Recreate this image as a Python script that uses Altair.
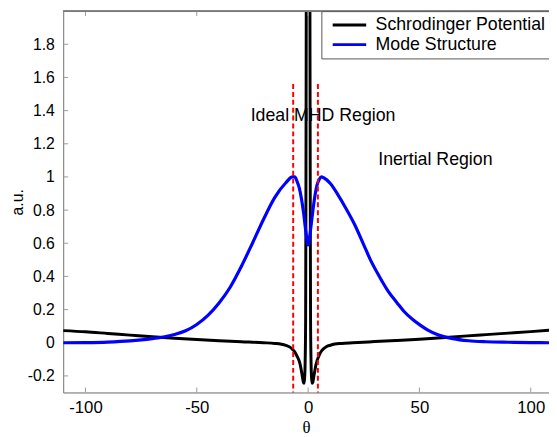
import altair as alt
import pandas as pd

# ---- data ----
pot_theta = [-110, -100, -90, -80, -70, -60, -50, -40, -30, -20, -15, -12, -10, -8, -7, -6, -5, -4,
             -3.5, -3, -2.5, -2.1, -1.8, -1.5, -1.3, -1.1, -0.9, -0.7, -0.5, 0,
             0.5, 0.7, 0.9, 1.1, 1.3, 1.5, 1.8, 2.1, 2.5, 3, 3.5, 4, 5, 6, 7, 8, 10, 12, 15,
             20, 30, 40, 50, 60, 70, 80, 90, 100, 110]
pot_value = [0.073, 0.066, 0.056, 0.046, 0.036, 0.027, 0.019, 0.012, 0.006, 0.0, -0.004, -0.009, -0.016,
             -0.028, -0.04, -0.055, -0.08, -0.11, -0.135, -0.17, -0.21, -0.24, -0.245, -0.2, -0.1,
             0.15, 1.4, 3.0, 5.0, 7.0,
             5.0, 3.0, 1.4, 0.15, -0.1, -0.2, -0.245, -0.24, -0.21, -0.17, -0.135, -0.11, -0.075,
             -0.05, -0.035, -0.025, -0.015, -0.008, -0.004, 0.0, 0.007, 0.014, 0.021, 0.03, 0.04,
             0.049, 0.058, 0.067, 0.077]

mode_theta = [-110, -100, -90, -80, -75, -70, -65, -60, -55, -50, -45, -40, -35, -30, -25, -20, -15,
              -10, -7, -6, -5, -4, -3, -2, -1, 0, 1, 2, 3, 4, 5, 6, 7, 10, 13.5, 17, 21, 25, 28, 32,
              36, 40, 43, 47, 50.5, 54, 58, 65, 72, 80, 90, 100, 110]
mode_value = [0.0, 0.001, 0.004, 0.011, 0.017, 0.025, 0.035, 0.05, 0.072, 0.11, 0.165, 0.24, 0.335,
              0.46, 0.6, 0.745, 0.875, 0.965, 1.0, 1.0, 0.975, 0.935, 0.87, 0.78, 0.67, 0.59,
              0.67, 0.78, 0.88, 0.95, 0.985, 1.0, 0.995, 0.96, 0.89, 0.81, 0.71, 0.59, 0.5, 0.4,
              0.31, 0.24, 0.19, 0.14, 0.105, 0.075, 0.05, 0.025, 0.012, 0.006, 0.003, 0.001, 0.0]

boundary_theta = [-6.7, 4.4]
boundary_top = [1.56, 1.56]
boundary_bottom = [-0.3, -0.3]

region_text = ["Ideal MHD Region", "Inertial Region"]
region_theta = [-25.8, 31.5]
region_value = [1.37, 1.10]

series_names = ["Schrodinger Potential", "Mode Structure"]
series_colors = ["#000000", "#0000ff"]

x_ticks = [-100, -50, 0, 50, 100]
y_ticks = [-0.2, 0, 0.2, 0.4, 0.6, 0.8, 1, 1.2, 1.4, 1.6, 1.8]
x_domain = [-110, 108.2]
y_domain = [-0.3, 2.0]

W, H = 493, 387
FONT = "Liberation Sans"
AXIS_GRAY = "#7a7a7a"

pot_df = pd.DataFrame({"theta": pot_theta, "value": pot_value, "series": series_names[0]})
mode_df = pd.DataFrame({"theta": mode_theta, "value": mode_value, "series": series_names[1]})
bnd_df = pd.DataFrame({"theta": boundary_theta, "top": boundary_top, "bottom": boundary_bottom})
txt_df = pd.DataFrame({"theta": region_theta, "value": region_value, "text": region_text})
xt_df = pd.DataFrame({"theta": x_ticks})
yt_df = pd.DataFrame({"value": y_ticks})

xscale = alt.Scale(domain=x_domain, nice=False, zero=False)
yscale = alt.Scale(domain=y_domain, nice=False, zero=False)

x_axis = alt.Axis(values=x_ticks, ticks=False, grid=False, domainColor=AXIS_GRAY,
                  labelFont=FONT, labelFontSize=17, labelColor="black", labelPadding=7,
                  labelOverlap=False, labelExpr="toString(round(datum.value))",
                  title="θ", titleFont="Liberation Serif", titleFontSize=17,
                  titleFontWeight="normal", titleColor="black", titlePadding=5)
y_axis = alt.Axis(values=y_ticks, ticks=False, grid=False, domainColor=AXIS_GRAY,
                  labelFont=FONT, labelFontSize=16, labelColor="black", labelPadding=9,
                  labelOverlap=False, labelSeparation=0,
                  labelExpr="toString(round(datum.value*10)/10)",
                  title="a.u.", titleFont=FONT, titleFontSize=16, titleX=-38,
                  titleFontWeight="normal", titleColor="black")

X = lambda f: alt.X(f, scale=xscale, axis=x_axis)
Y = lambda f: alt.Y(f, scale=yscale, axis=y_axis)

color_scale = alt.Scale(domain=series_names, range=series_colors)
legend = alt.Legend(title=None, orient="none", legendX=262, legendY=0,
                    symbolType="stroke", symbolSize=1156, symbolStrokeWidth=3,
                    clipHeight=20, rowPadding=0, labelFontSize=18, labelFont=FONT,
                    labelColor="black", labelOffset=8, labelLimit=400,
                    strokeColor="#555555", fillColor="white", padding=4, symbolOffset=6)

pot_line = alt.Chart(pot_df).mark_line(strokeWidth=3, clip=True, interpolate="monotone").encode(
    x=X("theta:Q"), y=Y("value:Q"),
    color=alt.Color("series:N", scale=color_scale, legend=legend),
)
mode_line = alt.Chart(mode_df).mark_line(strokeWidth=3.2, clip=True, interpolate="monotone").encode(
    x=X("theta:Q"), y=Y("value:Q"),
    color=alt.Color("series:N", scale=color_scale, legend=legend),
)
bnd = alt.Chart(bnd_df).mark_rule(color="#ff0000", strokeWidth=2, strokeDash=[5, 3]).encode(
    x=X("theta:Q"), y=Y("top:Q"), y2="bottom:Q",
)
txt = alt.Chart(txt_df).mark_text(align="left", baseline="middle", font=FONT, fontSize=18,
                                  color="black").encode(
    x=X("theta:Q"), y=Y("value:Q"), text="text:N",
)
# inward tick marks (MATLAB style) and top frame line
xt_bottom = alt.Chart(xt_df).mark_rule(color="#9a9a9a", strokeWidth=1).encode(
    x=X("theta:Q"), y=alt.value(H), y2=alt.value(H - 5))
xt_top = alt.Chart(xt_df).mark_rule(color="#9a9a9a", strokeWidth=1).encode(
    x=X("theta:Q"), y=alt.value(0), y2=alt.value(5))
yt_left = alt.Chart(yt_df).mark_rule(color="#9a9a9a", strokeWidth=1).encode(
    y=Y("value:Q"), x=alt.value(0), x2=alt.value(5))
top_frame = alt.Chart(xt_df).mark_rule(color=AXIS_GRAY, strokeWidth=1).encode(
    x=alt.value(0), x2=alt.value(W), y=alt.value(0))

chart = alt.layer(
    pot_line, xt_bottom, xt_top, yt_left, top_frame, mode_line, bnd, txt
).properties(
    width=W, height=H,
    autosize=alt.AutoSizeParams(type="none"),
    padding={"left": 56, "top": 0, "right": 0, "bottom": 42},
).configure_view(stroke=None).configure_axis(labelOverlap=False).configure(background="white")

chart.save("out.html", embed_options={"renderer": "svg", "actions": False})
